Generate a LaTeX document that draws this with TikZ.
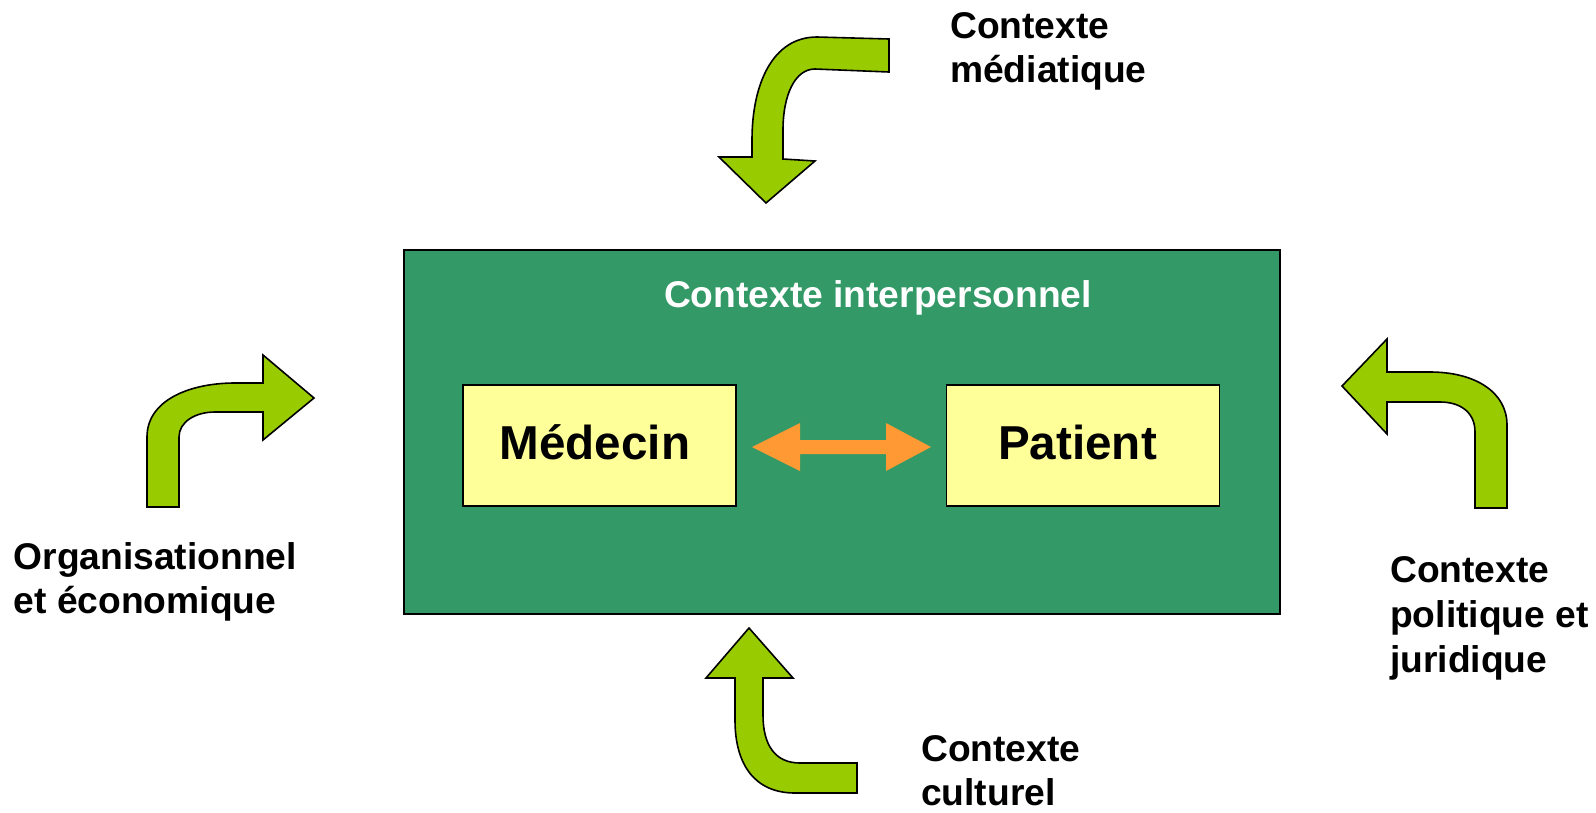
\documentclass[tikz,border=0pt]{standalone}
\usepackage{fontspec}
\setmainfont{Liberation Sans}
\definecolor{ctxgreen}{HTML}{339966}
\definecolor{arrgreen}{HTML}{99CC00}
\definecolor{boxyellow}{HTML}{FFFF99}
\definecolor{dblorange}{HTML}{FF9933}
\begin{document}
\begin{tikzpicture}[x=1pt,y=-1pt,
  bentarrow/.style={draw=black, fill=arrgreen, line width=1.6pt, line join=miter},
  actorbox/.style={draw=black, fill=boxyellow, line width=1.8pt, minimum width=273pt, minimum height=121pt, inner sep=0pt},
  actortext/.style={anchor=base west, inner sep=0pt, font=\fontsize{47.6}{56}\selectfont\bfseries},
  ctxlabel/.style={anchor=north west, inner sep=0pt, align=left, font=\fontsize{37.2}{44.7}\selectfont\bfseries}]
\useasboundingbox (0,0) rectangle (1596,812);
% interpersonal context
\node[draw=black, fill=ctxgreen, line width=2pt, minimum width=876pt, minimum height=364pt, inner sep=0pt, anchor=north west] (ctx) at (403,249) {};
\node[anchor=base, inner sep=0pt, text=white, font=\fontsize{37.2}{44}\selectfont\bfseries] (title) at (878,307) {Contexte interpersonnel};
\node[actorbox] (med) at (599.5,445.5) {};
\node[actorbox] (pat) at (1083,445.5) {};
\node[actortext] (medt) at (499.5,459) {Médecin};
\node[actortext] (patt) at (998,459) {Patient};
% double arrow
\fill[dblorange] (752,447) -- (800,423) -- (800,440) -- (886,440) -- (886,423) -- (931,447) -- (886,471) -- (886,454) -- (800,454) -- (800,471) -- cycle;
% top bent arrow
\draw[bentarrow] (889,39) -- (817,37) .. controls (772,37) and (752,85) .. (752,140) -- (752,157) -- (719,157) -- (766,203) -- (815,161) -- (783,159) -- (783,130) .. controls (783,95) and (795,69) .. (815,69) -- (889,72) -- cycle;
% left bent arrow
\draw[bentarrow] (147,507) -- (147,437) .. controls (147,400) and (190,383) .. (235,383) -- (263,383) -- (263,355) -- (314,398) -- (263,440) -- (263,412) -- (215,412) .. controls (195,412) and (179,422) .. (179,437) -- (179,507) -- cycle;
% right bent arrow
\draw[bentarrow] (1387,372) -- (1430,372) .. controls (1475,372) and (1507,392) .. (1507,425) -- (1507,508) -- (1475,508) -- (1475,432) .. controls (1475,412) and (1460,402) .. (1440,402) -- (1387,402) -- (1387,434) -- (1342,386) -- (1387,339) -- cycle;
% bottom bent arrow
\draw[bentarrow] (749,628) -- (793,678) -- (763,678) -- (763,715) .. controls (763,745) and (775,763) .. (800,763) -- (857,763) -- (857,793) -- (795,793) .. controls (755,793) and (735,765) .. (735,720) -- (735,678) -- (706,678) -- cycle;
% labels
\node[ctxlabel] (lmedia) at (950,12) {Contexte\\médiatique};
\node[ctxlabel] (lorg) at (13.5,542) {Organisationnel\\et économique};
\node[ctxlabel] (lpol) at (1390,556.5) {Contexte\\politique et\\juridique};
\node[ctxlabel] (lcult) at (921,735) {Contexte\\culturel};
\end{tikzpicture}
\end{document}
